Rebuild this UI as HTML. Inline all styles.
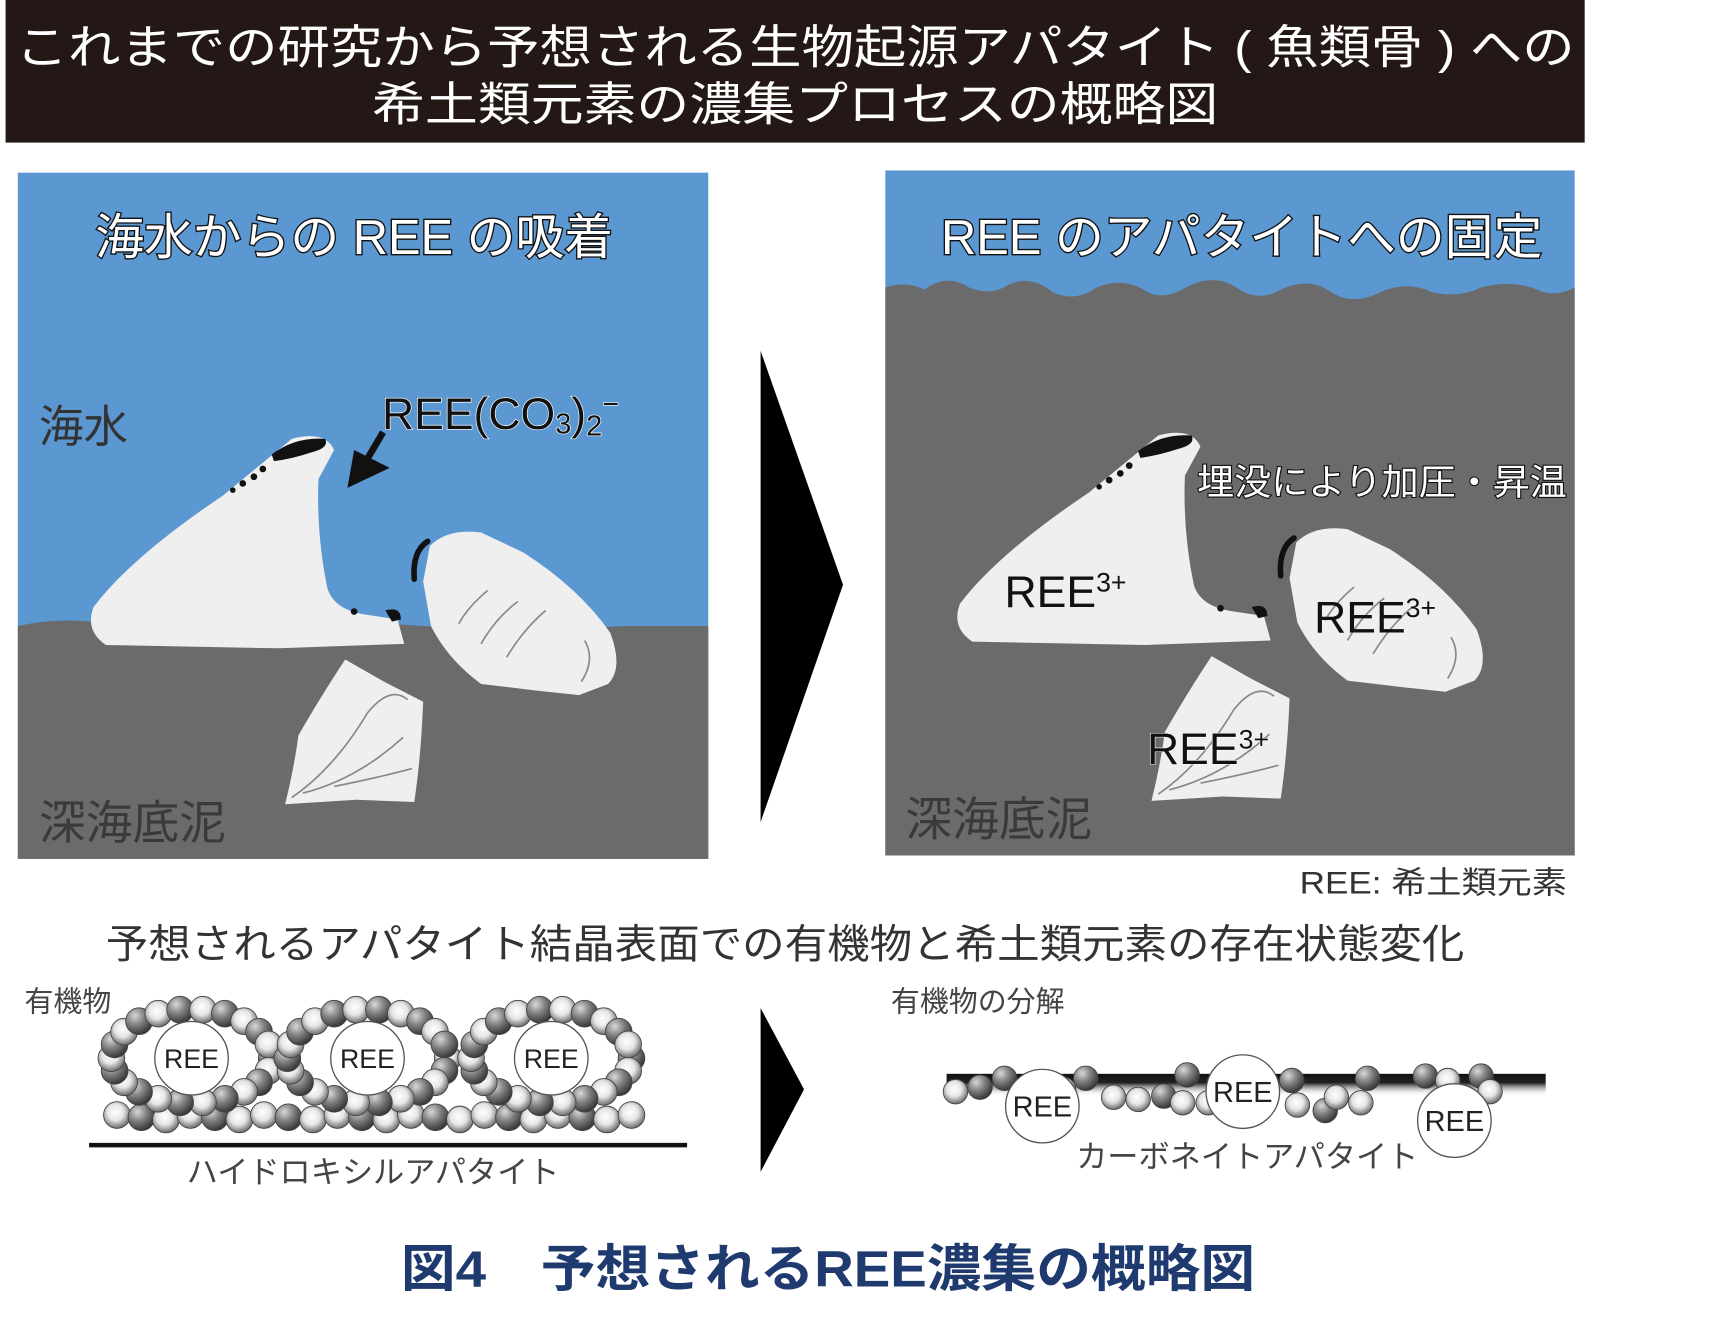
<!DOCTYPE html>
<html><head><meta charset="utf-8">
<style>
html,body{margin:0;padding:0;background:#fff;}
svg{display:block;}
text{font-family:"Liberation Sans","Noto Sans CJK JP",sans-serif;}
</style></head><body>
<svg id="s" width="1725" height="1320" viewBox="0 0 1549 1185" preserveAspectRatio="none" xmlns="http://www.w3.org/2000/svg">
<defs>
<radialGradient id="gl" cx="0.45" cy="0.4" r="0.6"><stop offset="0" stop-color="#fff"/><stop offset="0.5" stop-color="#e6e6e6"/><stop offset="1" stop-color="#6a6a6a"/></radialGradient>
<radialGradient id="gd" cx="0.35" cy="0.3" r="0.7"><stop offset="0" stop-color="#d8d8d8"/><stop offset="0.5" stop-color="#808080"/><stop offset="1" stop-color="#3a3a3a"/></radialGradient>
<linearGradient id="ln" x1="0" y1="0" x2="0" y2="1"><stop offset="0" stop-color="#111"/><stop offset="0.4" stop-color="#222"/><stop offset="1" stop-color="#fff" stop-opacity="0"/></linearGradient>
<g id="bone1">
<path d="M262,394 Q292,386 300,404 L286,430 Q284,480 294,528 Q300,548 330,552 L357,556 L363,578 L250,582 L95,579 Q76,566 84,545 Q118,500 200,445 Z" fill="#efefef"/>
<path d="M244,408 Q265,392 292,394 Q296,402 280,406 Q262,412 246,414 Z" fill="#111"/>
<circle cx="236" cy="421" r="3" fill="#111"/><circle cx="228" cy="428" r="3" fill="#111"/><circle cx="218" cy="434" r="3" fill="#111"/><circle cx="209" cy="440" r="2.5" fill="#111"/>
<circle cx="318" cy="549" r="3" fill="#111"/><path d="M346,548 Q360,544 360,556 L352,558 Z" fill="#111"/>
</g>
<g id="bone2">
<path d="M386,490 Q402,474 432,478 L470,496 Q520,528 548,568 Q560,600 546,614 L520,624 L482,620 L432,614 Q402,592 387,562 L380,522 Z" fill="#efefef"/>
<path d="M372,520 Q370,495 384,486" stroke="#111" stroke-width="5" fill="none" stroke-linecap="round"/>
<path d="M412,560 Q420,545 438,530 M432,578 Q445,555 465,540 M455,590 Q470,565 490,548 M525,575 Q535,592 522,612" stroke="#888" stroke-width="1.5" fill="none"/>
</g>
<g id="bone3">
<path d="M310,592 L345,612 L380,630 Q378,680 372,720 L320,718 L256,722 Q264,690 268,660 Q290,622 310,592 Z" fill="#efefef"/>
<path d="M262,716 Q300,690 330,640 Q350,615 366,628 M272,712 Q320,700 362,662 M300,706 Q340,698 370,690" stroke="#888" stroke-width="1.5" fill="none"/>
</g>
</defs>
<!-- title band -->
<rect x="5" y="0" width="1418" height="128" fill="#231815"/>
<text x="714" y="57" text-anchor="middle" font-size="42" fill="#fff" textLength="1400" lengthAdjust="spacingAndGlyphs">これまでの研究から予想される生物起源アパタイト ( 魚類骨 ) への</text>
<text x="714" y="108" text-anchor="middle" font-size="42" fill="#fff" textLength="760" lengthAdjust="spacingAndGlyphs">希土類元素の濃集プロセスの概略図</text>

<!-- left panel -->
<rect x="16" y="155" width="620" height="616" fill="#5b97d1"/>
<path d="M16,562 Q60,552 110,562 Q160,568 220,560 Q300,556 380,562 Q470,568 560,562 L636,562 L636,771 L16,771 Z" fill="#6b6b6b"/>
<use href="#bone1"/><use href="#bone2"/><use href="#bone3"/>
<text x="318" y="228" text-anchor="middle" font-size="44" fill="#fff" stroke="#111" stroke-width="2.4" paint-order="stroke" textLength="465" lengthAdjust="spacingAndGlyphs">海水からの REE の吸着</text>
<text x="35" y="397" font-size="40" fill="#333">海水</text>
<text x="35" y="753" font-size="42" fill="#3a3a3a">深海底泥</text>
<text x="343" y="385" font-size="40" fill="#111" stroke="#fff" stroke-width="1.2" paint-order="stroke">REE(CO<tspan font-size="26" dy="4">3</tspan><tspan dy="-4">)</tspan><tspan font-size="26" dy="6">2</tspan><tspan font-size="26" dy="-20">−</tspan></text>
<path d="M344,388 L328,415" stroke="#111" stroke-width="6"/>
<polygon points="312,438 318,404 350,420" fill="#111"/>

<!-- big arrow -->
<polygon points="683,315 757,525 683,738" fill="#000"/>

<!-- right panel -->
<rect x="795" y="153" width="619" height="615" fill="#5b97d1"/>
<path d="M795,258 Q815,252 830,260 Q850,245 870,258 Q890,266 905,256 Q925,246 945,262 Q965,272 985,258 Q1010,248 1030,262 Q1045,270 1065,258 Q1090,245 1110,258 Q1130,272 1150,260 Q1175,248 1195,262 Q1215,275 1240,262 Q1265,252 1285,262 Q1310,268 1330,258 Q1360,250 1385,262 Q1400,266 1414,258 L1414,768 L795,768 Z" fill="#6b6b6b"/>
<g transform="translate(778,-3)"><use href="#bone1"/></g>
<g transform="translate(778,-3)"><use href="#bone2"/></g>
<g transform="translate(778,-3)"><use href="#bone3"/></g>
<text x="1115" y="228" text-anchor="middle" font-size="44" fill="#fff" stroke="#111" stroke-width="2.4" paint-order="stroke" textLength="540" lengthAdjust="spacingAndGlyphs">REE のアパタイトへの固定</text>
<text x="1075" y="444" font-size="32" fill="#fff" stroke="#111" stroke-width="2" paint-order="stroke" textLength="332" lengthAdjust="spacingAndGlyphs">埋没により加圧・昇温</text>
<text x="902" y="545" font-size="40" fill="#111">REE<tspan font-size="24" dy="-14">3+</tspan></text>
<text x="1180" y="568" font-size="40" fill="#111">REE<tspan font-size="24" dy="-14">3+</tspan></text>
<text x="1030" y="686" font-size="40" fill="#111" stroke="#fff" stroke-width="1" paint-order="stroke">REE<tspan font-size="24" dy="-14">3+</tspan></text>
<text x="813" y="750" font-size="42" fill="#3a3a3a">深海底泥</text>

<text x="1167" y="802" font-size="28" fill="#333" textLength="240" lengthAdjust="spacingAndGlyphs">REE: 希土類元素</text>
<text x="95" y="860" font-size="36" fill="#333" textLength="1220" lengthAdjust="spacingAndGlyphs">予想されるアパタイト結晶表面での有機物と希土類元素の存在状態変化</text>

<!-- bottom left -->
<text x="22" y="908" font-size="26" fill="#444">有機物</text>
<g id="lsph"></g>
<line x1="80" y1="1028" x2="617" y2="1028" stroke="#111" stroke-width="4"/>
<text x="335" y="1062" text-anchor="middle" font-size="28" fill="#444">ハイドロキシルアパタイト</text>

<polygon points="683,905 722,978 683,1052" fill="#000"/>

<!-- bottom right -->
<text x="800" y="908" font-size="26" fill="#444">有機物の分解</text>
<rect x="850" y="964" width="538" height="20" fill="url(#ln)"/>
<g id="rsph"></g>
<text x="1120" y="1048" text-anchor="middle" font-size="28" fill="#444">カーボネイトアパタイト</text>

<text x="360" y="1155" font-size="46" fill="#1e3a6e" font-weight="bold" textLength="767" lengthAdjust="spacingAndGlyphs">図4　予想されるREE濃集の概略図</text>
</svg>
<script>
(function(){
var NS="http://www.w3.org/2000/svg";
function sph(g,x,y,r,d){var c=document.createElementNS(NS,"circle");c.setAttribute("cx",x);c.setAttribute("cy",y);c.setAttribute("r",r);c.setAttribute("fill",d?"url(#gd)":"url(#gl)");c.setAttribute("stroke","#444");c.setAttribute("stroke-width","0.8");g.appendChild(c);}
function ree(g,x,y,r,fs){var c=document.createElementNS(NS,"circle");c.setAttribute("cx",x);c.setAttribute("cy",y);c.setAttribute("r",r);c.setAttribute("fill","#fff");c.setAttribute("stroke","#555");c.setAttribute("stroke-width","1.2");g.appendChild(c);var t=document.createElementNS(NS,"text");t.setAttribute("x",x);t.setAttribute("y",y+fs*0.36);t.setAttribute("text-anchor","middle");t.setAttribute("font-size",fs);t.setAttribute("fill","#222");t.textContent="REE";g.appendChild(t);}
var L=document.getElementById("lsph");
var k=0;
for(var x=105;x<=570;x+=22){sph(L,x,1003+((k%3)-1)*2,12,k%3==1);k++;}
var cs=[172,330,495];
cs.forEach(function(cx,i){
  for(var a=0;a<22;a++){var t=a/22*Math.PI*2;var x=cx+Math.cos(t)*72,y; if(Math.sin(t)<0)y=950+Math.sin(t)*44; else y=950+Math.sin(t)*40; sph(L,x,y,12,(a+i)%2==0);}
  ree(L,cx,950,33,24);
});
var R=document.getElementById("rsph");
var pts=[[858,980,0],[880,976,1],[902,968,1],[955,978,0],[975,968,1],[1000,985,0],[1022,987,0],[1045,984,1],[1062,990,0],[1066,965,1],[1085,990,0],[1160,970,1],[1165,992,0],[1190,997,1],[1200,985,0],[1222,990,0],[1228,968,1],[1280,966,1],[1300,970,0],[1330,966,1],[1338,980,0]];
pts.forEach(function(p){sph(R,p[0],p[1],11,p[2]);});
ree(R,936,993,33,26);ree(R,1116,980,33,26);ree(R,1306,1006,33,26);
})();
</script>
</body></html>
